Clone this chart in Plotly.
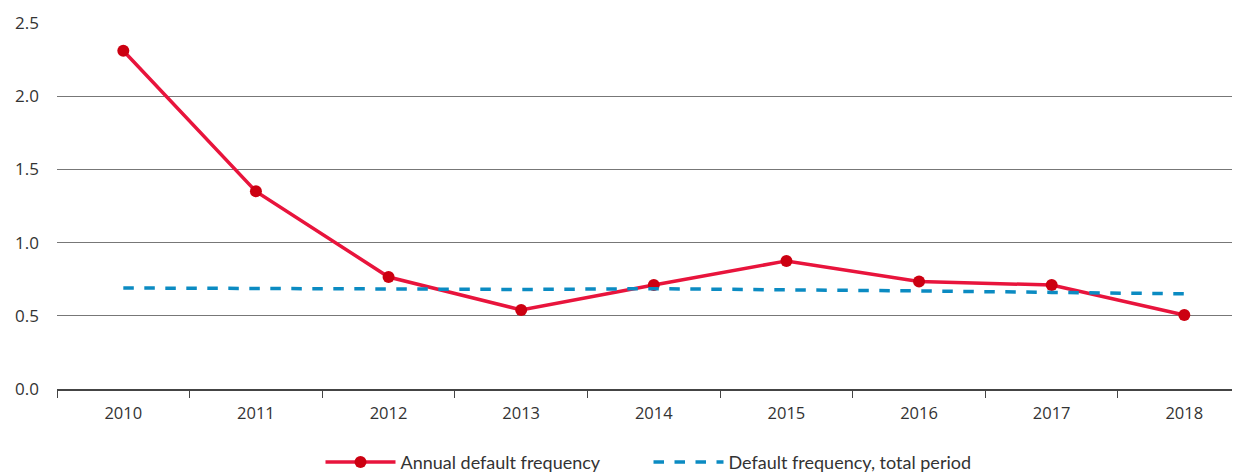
import plotly.graph_objects as go

years = ["2010", "2011", "2012", "2013", "2014", "2015", "2016", "2017", "2018"]
annual = [2.31, 1.35, 0.765, 0.54, 0.71, 0.875, 0.735, 0.71, 0.505]
total_period = [0.69, 0.685, 0.68, 0.68, 0.685, 0.68, 0.67, 0.66, 0.65]
y_ticks = [0.0, 0.5, 1.0, 1.5, 2.0, 2.5]
y_labels = ["0.0", "0.5", "1.0", "1.5", "2.0", "2.5"]

fig = go.Figure()
fig.add_trace(go.Scatter(
    x=years, y=annual, name="Annual default frequency",
    mode="lines+markers",
    line=dict(color="#E8143C", width=3.5),
    marker=dict(color="#CC0011", size=12),
))
fig.add_trace(go.Scatter(
    x=years, y=total_period, name="Default frequency, total period",
    mode="lines",
    line=dict(color="#0B8BC2", width=3.5, dash="dash"),
))

fig.update_layout(
    width=1232, height=467,
    margin=dict(l=49, r=0, t=15, b=86, autoexpand=False),
    plot_bgcolor="white", paper_bgcolor="white",
    font=dict(family="Open Sans, Lato, sans-serif", size=16, color="#333333"),
    showlegend=True,
    legend=dict(orientation="h", x=0.5, xanchor="center", y=-0.15, yanchor="top",
                font=dict(family="Lato, sans-serif", size=18, color="#333333"),
                itemwidth=70, entrywidth=243, entrywidthmode="pixels"),
    xaxis=dict(
        type="category", range=[-0.5, 8.42], automargin=False,
        tickson="boundaries", ticks="outside", ticklen=7, tickcolor="#444444",
        showline=True, linecolor="#444444", linewidth=1.5,
        showgrid=False, tickfont=dict(size=16.5), ticklabelstandoff=8,
    ),
    yaxis=dict(
        range=[0, 2.5], tickvals=y_ticks, ticktext=y_labels, automargin=False,
        showgrid=True, gridcolor="#777777", gridwidth=1,
        zeroline=False, showline=False, ticks="",
        tickfont=dict(size=17), ticklabelstandoff=17,
    ),
)

fig.write_html("out.html")
